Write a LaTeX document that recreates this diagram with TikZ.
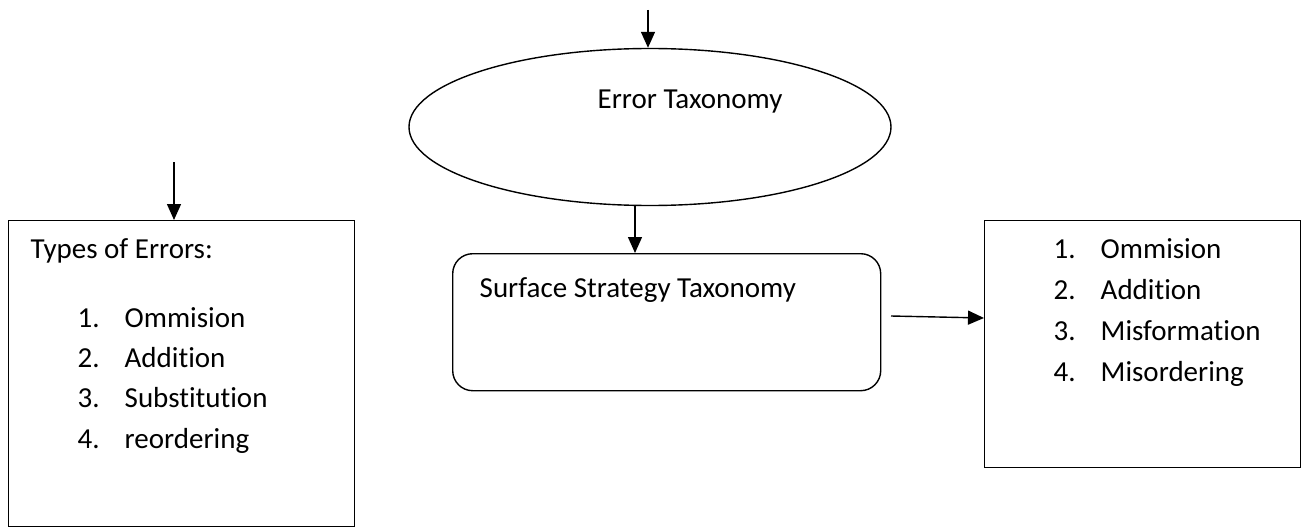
\documentclass[tikz,border=0pt]{standalone}
\usepackage{fontspec}
\setmainfont[Ligatures=NoCommon]{Carlito}
\usetikzlibrary{shapes.geometric,arrows.meta}
\begin{document}
\begin{tikzpicture}[x=1pt,y=-1pt,
  line width=1.4pt,
  arr/.style={-{Triangle[length=16pt,width=14pt]}},
  box/.style={draw,rectangle,inner sep=0pt,anchor=north west},
  txt/.style={anchor=base west,inner sep=0pt,font=\fontsize{29}{40}\selectfont}]
\useasboundingbox (0,0) rectangle (1302,527);
% nodes
\node (e) [draw,ellipse,inner sep=0pt,minimum width=482pt,minimum height=157pt] at (650,127) {};
\node (l) [box,minimum width=346pt,minimum height=306pt] at (8,220) {};
\node (s) [box,rounded corners=20pt,minimum width=428pt,minimum height=137pt] at (452,253) {};
\node (r) [box,minimum width=316pt,minimum height=247pt] at (984,220) {};
% texts
\node (et) [txt] at (597,109) {Error Taxonomy};
\node (st) [txt] at (479,297) {Surface Strategy Taxonomy};
\node (lt) [txt] at (30,258) {Types of Errors:};
\foreach \n/\w/\y [count=\i] in {1/Ommision/327,2/Addition/367,3/Substitution/407,4/reordering/448}{
  \node (ln\i) [txt] at (77,\y) {\n.};
  \node (lw\i) [txt] at (124,\y) {\w};
}
\foreach \n/\w/\y [count=\i] in {1/Ommision/258,2/Addition/299,3/Misformation/340,4/Misordering/381}{
  \node (rn\i) [txt] at (1053,\y) {\n.};
  \node (rw\i) [txt] at (1100,\y) {\w};
}
% connectors
\coordinate (t1) at (648,10);
\coordinate (t2) at (174,162);
\coordinate (c3) at (891,316);
\draw[arr] (t1) -- (t1 |- e.north);
\draw[arr] (t2) -- (t2 |- l.north);
\draw[arr] ([xshift=-15pt]e.south) -- ([xshift=-15pt]e.south |- s.north);
\draw[arr] (c3) -- (r.west |- 0,318);
\end{tikzpicture}
\end{document}
